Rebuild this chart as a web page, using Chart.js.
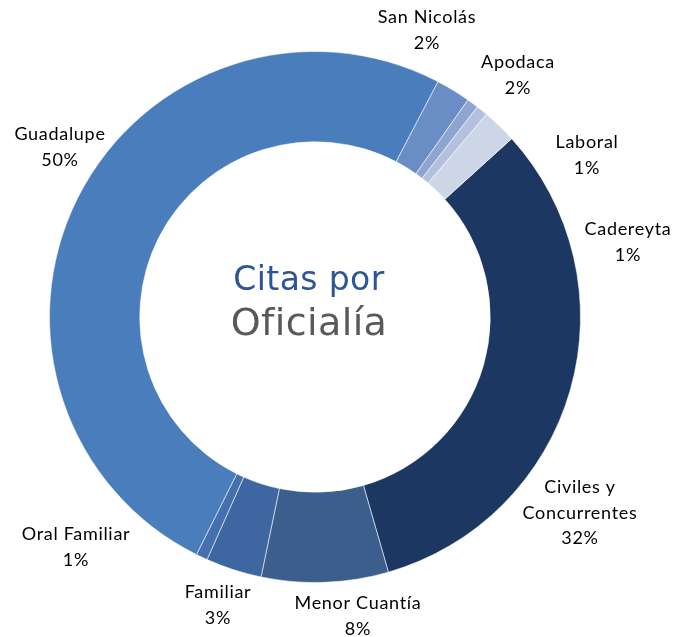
<!DOCTYPE html>
<html>
<head>
<meta charset="utf-8">
<script src="https://cdn.jsdelivr.net/npm/chart.js@4"></script>
<style>
  html, body { margin: 0; padding: 0; background: #fff; }
  canvas { display: block; }
</style>
</head>
<body>
<canvas id="chart" width="674" height="637"></canvas>
<script>
// data, in slice order (clockwise from the dark slice)
const labels = ['Civiles y\nConcurrentes', 'Menor Cuantía', 'Familiar', 'Oral Familiar', 'Guadalupe', 'San Nicolás', 'Laboral', 'Cadereyta', 'Apodaca'];
const values = [32.2, 7.7, 3.4, 0.7, 50.2, 2.1, 0.7, 0.7, 2.1];
const colors = ['#1c3862', '#3b5e8c', '#3e66a0', '#4470ad', '#4a7dbb', '#6b8dc5', '#8ea5d1', '#b4c1de', '#cdd6e7'];
const centerTitle = ['Citas por', 'Oficialía'];

// where each label block sits (center x, first baseline)
const labelPos = {
  'Civiles y\nConcurrentes': [580, 493],
  'Menor Cuantía': [358, 609],
  'Familiar': [218, 598],
  'Oral Familiar': [76, 540],
  'Guadalupe': [60, 140],
  'San Nicolás': [427, 23],
  'Laboral': [587, 148],
  'Cadereyta': [628, 235],
  'Apodaca': [518, 68]
};

const outsideLabels = {
  id: 'outsideLabels',
  afterDatasetsDraw(chart) {
    const ctx = chart.ctx;
    const meta = chart.getDatasetMeta(0);
    const total = values.reduce((a, b) => a + b, 0);
    ctx.save();
    ctx.fillStyle = '#000';
    ctx.font = '18px Lato, "Open Sans", sans-serif';
    ctx.letterSpacing = '0.7px';
    ctx.textAlign = 'center';
    ctx.textBaseline = 'alphabetic';
    chart.data.labels.forEach((lab, i) => {
      if (!meta.data[i]) return;
      const pct = Math.round(values[i] / total * 100) + '%';
      const lines = lab.split('\n').concat(pct);
      const [x, y] = labelPos[lab];
      lines.forEach((t, j) => ctx.fillText(t, x, y + j * 25.5));
    });

    // title in the hole (letter spacing also stops the fi ligature)
    const arc = meta.data[0];
    ctx.letterSpacing = '0.4px';
    ctx.font = '33px "DejaVu Sans", sans-serif';
    ctx.fillStyle = '#2e5597';
    ctx.fillText(centerTitle[0], arc.x - 6, arc.y - 27);
    ctx.fillStyle = '#595959';
    ctx.font = '38px "DejaVu Sans", sans-serif';
    ctx.fillText(centerTitle[1], arc.x - 6, arc.y + 18);
    ctx.restore();
  }
};

new Chart(document.getElementById('chart'), {
  type: 'doughnut',
  data: {
    labels: labels,
    datasets: [{
      data: values,
      backgroundColor: colors,
      borderColor: 'rgba(255,255,255,0.55)',
      borderWidth: 1,
      hoverOffset: 0
    }]
  },
  options: {
    responsive: false,
    animation: false,
    devicePixelRatio: 1,
    cutout: '66%',
    rotation: 47.8,
    layout: { padding: { left: 49, right: 93, top: 51, bottom: 54 } },
    plugins: {
      legend: { display: false },
      tooltip: { enabled: false }
    }
  },
  plugins: [outsideLabels]
});
</script>
</body>
</html>
